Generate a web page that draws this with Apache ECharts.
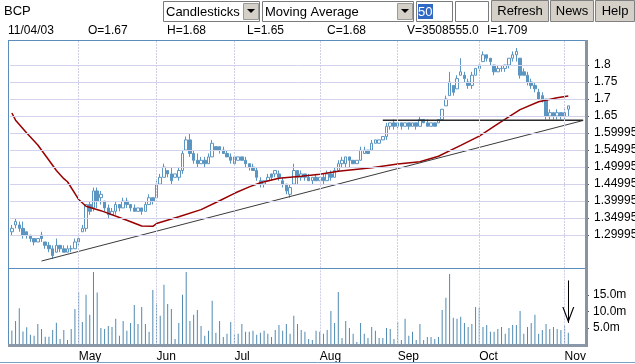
<!DOCTYPE html>
<html><head><meta charset="utf-8">
<script src="https://cdn.jsdelivr.net/npm/echarts@6/dist/echarts.min.js"></script>
<style>html,body{margin:0;padding:0;background:#fff}#c{width:635px;height:364px}</style>
</head><body><div id="c"></div>
<script>
// ---------- data ----------
const dates = [
 '04/03','04/04','04/07','04/08','04/09','04/10','04/11','04/14','04/15','04/16','04/17','04/22','04/23','04/24','04/25','04/28','04/29','04/30',
 '05/02','05/05','05/06','05/07','05/08','05/09','05/12','05/13','05/14','05/15','05/16','05/19','05/20','05/21','05/22','05/23','05/26','05/27','05/28','05/29','05/30',
 '06/02','06/03','06/04','06/05','06/06','06/09','06/10','06/11','06/12','06/13','06/16','06/17','06/18','06/19','06/20','06/23','06/24','06/25','06/26','06/27','06/30',
 '07/01','07/02','07/03','07/04','07/07','07/08','07/09','07/10','07/11','07/14','07/15','07/16','07/17','07/18','07/21','07/22','07/23','07/24','07/25','07/28','07/29','07/30','07/31',
 '08/01','08/04','08/05','08/06','08/07','08/08','08/11','08/12','08/13','08/14','08/15','08/18','08/19','08/20','08/21','08/22','08/25','08/26','08/27','08/28','08/29',
 '09/01','09/02','09/03','09/04','09/05','09/08','09/09','09/10','09/11','09/12','09/15','09/16','09/17','09/18','09/19','09/22','09/23','09/24','09/25','09/26','09/29','09/30',
 '10/01','10/02','10/03','10/06','10/07','10/08','10/09','10/10','10/13','10/14','10/15','10/16','10/17','10/20','10/21','10/22','10/23','10/24','10/27','10/28','10/29','10/30','10/31',
 '11/03','11/04'
];
const padDays = ['', '', '', ''];
const open = [1.31,1.33,1.33,1.32,1.31,1.30,1.29,1.28,1.30,1.28, 1.27,1.26,1.25,1.27,1.26,1.25,1.26,1.26,1.28,1.31,
 1.32,1.39,1.38,1.43,1.41,1.40,1.38,1.36,1.37,1.39, 1.38,1.40,1.39,1.38,1.37,1.38,1.37,1.39,1.41,1.41,
 1.45,1.47,1.49,1.48,1.47,1.47,1.49,1.55,1.58,1.54, 1.52,1.51,1.52,1.51,1.53,1.56,1.56,1.55,1.54,1.53,
 1.51,1.52,1.53,1.52,1.51,1.50,1.49,1.46,1.45,1.46, 1.48,1.48,1.48,1.46,1.45,1.42,1.45,1.49,1.47,1.48,
 1.47,1.46,1.47,1.46,1.47,1.46,1.48,1.47,1.49,1.51, 1.51,1.53,1.52,1.51,1.52,1.54,1.55,1.55,1.57,1.57,
 1.58,1.59,1.62,1.63,1.62,1.63,1.62,1.63,1.62,1.63, 1.62,1.64,1.63,1.62,1.63,1.63,1.64,1.68,1.71,1.74,
 1.73,1.77,1.77,1.75,1.74,1.77,1.79,1.81,1.83,1.82, 1.80,1.78,1.79,1.79,1.80,1.82,1.83,1.82,1.78,1.77,
 1.75,1.74,1.72,1.71,1.70,1.65,1.66,1.65,1.66,1.65, 1.67];
const close = [1.32,1.34,1.32,1.30,1.30,1.29,1.28,1.29,1.29,1.27, 1.26,1.24,1.27,1.26,1.25,1.26,1.26,1.28,1.29,1.32,
 1.39,1.37,1.43,1.40,1.42,1.38,1.36,1.37,1.39,1.38, 1.40,1.39,1.38,1.37,1.38,1.37,1.39,1.41,1.40,1.45,
 1.47,1.50,1.48,1.46,1.48,1.49,1.54,1.58,1.54,1.52, 1.51,1.52,1.51,1.53,1.57,1.55,1.55,1.54,1.53,1.52,
 1.53,1.53,1.52,1.51,1.50,1.49,1.47,1.45,1.46,1.47, 1.47,1.49,1.47,1.45,1.43,1.44,1.49,1.47,1.48,1.47,
 1.46,1.47,1.46,1.47,1.46,1.48,1.47,1.49,1.51,1.52, 1.53,1.52,1.51,1.52,1.55,1.55,1.54,1.57,1.58,1.58,
 1.59,1.62,1.63,1.62,1.63,1.62,1.63,1.62,1.63,1.62, 1.64,1.63,1.62,1.63,1.62,1.64,1.67,1.70,1.75,1.72,
 1.76,1.78,1.76,1.74,1.77,1.79,1.80,1.83,1.82,1.81, 1.78,1.79,1.79,1.80,1.82,1.83,1.84,1.77,1.77,1.75,
 1.74,1.73,1.70,1.70,1.65,1.66,1.65,1.66,1.65,1.66, 1.68];
const low = [1.30,1.32,1.31,1.29,1.29,1.28,1.27,1.28,1.28,1.26, 1.25,1.23,1.25,1.25,1.25,1.25,1.25,1.26,1.27,1.31,
 1.31,1.36,1.37,1.38,1.39,1.37,1.35,1.36,1.36,1.37, 1.38,1.38,1.37,1.37,1.37,1.36,1.37,1.39,1.39,1.41,
 1.45,1.47,1.47,1.45,1.47,1.46,1.48,1.55,1.53,1.51, 1.50,1.51,1.50,1.51,1.53,1.55,1.54,1.54,1.53,1.51,
 1.51,1.52,1.52,1.50,1.49,1.49,1.46,1.44,1.44,1.46, 1.46,1.47,1.46,1.44,1.42,1.41,1.45,1.45,1.46,1.46,
 1.46,1.45,1.46,1.46,1.45,1.46,1.46,1.47,1.49,1.50, 1.50,1.50,1.51,1.51,1.52,1.54,1.54,1.55,1.57,1.57,
 1.58,1.58,1.61,1.61,1.61,1.61,1.62,1.61,1.62,1.61, 1.62,1.63,1.62,1.62,1.62,1.63,1.64,1.68,1.71,1.71,
 1.73,1.77,1.75,1.73,1.73,1.77,1.78,1.81,1.81,1.80, 1.77,1.78,1.78,1.78,1.79,1.81,1.81,1.76,1.77,1.74,
 1.73,1.72,1.70,1.69,1.64,1.64,1.64,1.64,1.64,1.64, 1.65];
const high = [1.33,1.35,1.34,1.34,1.31,1.30,1.29,1.29,1.31,1.28, 1.28,1.27,1.29,1.27,1.27,1.27,1.27,1.29,1.30,1.33,
 1.39,1.40,1.44,1.44,1.43,1.40,1.39,1.38,1.40,1.39, 1.41,1.41,1.39,1.39,1.38,1.38,1.40,1.42,1.41,1.46,
 1.48,1.51,1.49,1.50,1.48,1.50,1.55,1.59,1.60,1.55, 1.54,1.53,1.53,1.54,1.58,1.56,1.56,1.56,1.55,1.54,
 1.53,1.53,1.53,1.53,1.51,1.51,1.50,1.47,1.46,1.48, 1.48,1.49,1.49,1.47,1.45,1.45,1.51,1.49,1.49,1.48,
 1.48,1.47,1.48,1.47,1.48,1.49,1.49,1.50,1.52,1.53, 1.53,1.53,1.52,1.52,1.56,1.56,1.55,1.58,1.58,1.58,
 1.59,1.63,1.63,1.64,1.63,1.63,1.63,1.63,1.63,1.63, 1.65,1.64,1.64,1.63,1.63,1.64,1.67,1.71,1.78,1.74,
 1.77,1.82,1.78,1.76,1.78,1.79,1.80,1.84,1.83,1.82, 1.80,1.80,1.80,1.80,1.82,1.84,1.85,1.82,1.79,1.78,
 1.76,1.75,1.73,1.72,1.70,1.67,1.66,1.67,1.66,1.67, 1.68];
// volume in millions
const volume = [4.2,7.1,11.0,3.9,5.2,2.9,2.6,6.2,4.7,2.3, 2.3,4.4,6.6,1.6,4.4,1.3,4.7,10.8,16.0,6.8,
 15.1,9.0,22.1,15.8,5.0,4.7,5.6,5.3,7.8,2.6, 7.1,4.1,6.5,12.0,6.2,11.4,6.2,3.8,16.6,12.6,
 8.7,18.2,12.3,10.8,1.6,6.5,15.1,22.1,7.1,9.0, 10.5,5.6,2.6,4.1,13.3,3.5,7.1,2.2,3.2,6.8,
 3.2,3.2,6.2,3.8,3.8,4.1,2.9,3.5,4.1,3.2, 2.2,4.4,5.9,4.1,6.2,3.2,8.7,6.2,4.4,3.8,
 1.6,1.3,4.1,3.8,3.2,4.4,10.2,6.5,16.0,1.9, 7.1,5.0,3.2,0.7,6.5,3.2,1.9,5.3,4.1,1.9,
 1.9,5.0,4.7,1.6,6.8,1.3,7.8,2.6,3.8,1.3, 6.2,1.3,2.2,2.2,1.6,2.2,10.5,14.2,21.5,8.1,
 7.8,8.4,6.5,5.3,6.2,11.4,11.1,5.3,5.9,3.8, 3.8,4.7,5.3,3.2,5.0,5.9,5.9,10.2,3.2,5.3,
 6.5,9.0,3.2,4.4,6.2,4.7,5.3,4.7,4.4,5.6, 3.5];
// 50-day moving average read at trading-day indices
const maPoints = [[0,1.659],[1,1.638],[4,1.600],[7,1.565],[10,1.520],[12,1.490],[14,1.466],[15,1.457],[18,1.405],[20,1.385],
 [24,1.372],[31,1.344],[35,1.327],[38,1.326],[39,1.334],[45,1.354],[51,1.375],[56,1.401],[60,1.423],[64,1.442],[67,1.454],
 [72,1.467],[78,1.473],[83,1.479],[88,1.488],[97,1.498],[104,1.509],[110,1.516],[115,1.532],[121,1.564],[126,1.591],
 [131,1.627],[137,1.669],[142,1.692],[147,1.704],[150,1.709]];
const supportLine = [[8,1.224],[154,1.637]];
const resistanceLine = [[100,1.638],[154,1.638]];
const arrowFrom = [150, 19.5];
const arrowTo = [150, 6.5];
const priceTicks = [1.29995,1.34995,1.39995,1.44995,1.49995,1.54995,1.59995,1.65,1.7,1.75,1.8];
const priceTickLabels = ['1.29995','1.34995','1.39995','1.44995','1.49995','1.54995','1.59995','1.65','1.7','1.75','1.8'];
const volumeTicks = [5, 10, 15];
const monthNames = ['Jan','Feb','Mar','Apr','May','Jun','Jul','Aug','Sep','Oct','Nov','Dec'];
const infoTexts = ['11/04/03','O=1.67','H=1.68','L=1.65','C=1.68','V=3508555.0','I=1.709'];

// ---------- build ----------
const cats = dates.concat(padDays);
const ohlc = dates.map((d, i) => [open[i], close[i], low[i], high[i]]);
const monthStart = [];
dates.forEach((d, i) => { if (i > 0 && d.slice(0,2) !== dates[i-1].slice(0,2)) monthStart.push(i); });
const monthSet = new Set(monthStart);
const BLUE = '#5b96c2';
const FONT = '"Liberation Sans", Arial, sans-serif';

const chart = echarts.init(document.getElementById('c'), null, {renderer: 'canvas', width: 635, height: 364});

function txt(x, y, s, size, color, align) {
  return {type: 'text', x: x, y: y, z: 20, style: {text: s, fill: color || '#000', font: size + 'px ' + FONT, align: align || 'left', verticalAlign: 'middle'}};
}
function rect(x, y, w, h, fill, stroke, z) {
  return {type: 'rect', z: z || 15, shape: {x: x, y: y, width: w, height: h}, style: {fill: fill, stroke: stroke || null, lineWidth: 1}};
}
function ln(x1, y1, x2, y2, color, w, z) {
  return {type: 'line', z: z || 15, shape: {x1: x1, y1: y1, x2: x2, y2: y2}, style: {stroke: color, lineWidth: w || 1}};
}
const infoX = [8, 88, 167, 247, 327, 407, 487];
const graphics = [
  // toolbar
  rect(0, 0, 635, 23, '#ffffff'),
  txt(4, 11, 'BCP', 13),
  rect(163.5, 1.5, 96, 20, '#fff', '#7a7a7a'),
  rect(243.5, 3.5, 15, 16, '#d4d0c8', '#9a9a9a'),
  {type: 'polygon', z: 20, shape: {points: [[247, 9], [255, 9], [251, 13]]}, style: {fill: '#000'}},
  txt(166, 12, 'Candlesticks', 13),
  rect(262.5, 1.5, 151, 20, '#fff', '#7a7a7a'),
  rect(397.5, 3.5, 15, 16, '#d4d0c8', '#9a9a9a'),
  {type: 'polygon', z: 20, shape: {points: [[401, 9], [409, 9], [405, 13]]}, style: {fill: '#000'}},
  txt(265, 12, 'Moving Average', 13),
  rect(416.5, 1.5, 36, 20, '#fff', '#7a7a7a'),
  rect(418, 4, 15, 15, '#316ac5'),
  txt(418, 12, '50', 13, '#fff'),
  rect(455.5, 1.5, 33, 20, '#fff', '#7a7a7a'),
  rect(491.5, 0.5, 57, 21, '#d4d0c8', '#808080'),
  txt(520, 11, 'Refresh', 13, '#000', 'center'),
  rect(550.5, 0.5, 43, 21, '#d4d0c8', '#808080'),
  txt(572, 11, 'News', 13, '#000', 'center'),
  rect(595.5, 0.5, 39, 21, '#d4d0c8', '#808080'),
  txt(615, 11, 'Help', 13, '#000', 'center'),
  // frame
  ln(8.5, 40, 8.5, 345, '#5a8cbc'),
  ln(8, 40.5, 586, 40.5, '#5a8cbc'),
  ln(8, 268.5, 586, 268.5, '#5a8cbc'),
  rect(8, 344, 580, 3, '#8a98aa', null),
  rect(585, 40, 3, 307, '#8a94a0', null),
  ln(0, 362.5, 635, 362.5, '#7aa0c8')
];
infoTexts.forEach((s, i) => graphics.push(txt(infoX[i], 31, s, 12)));

const option = {
  animation: false,
  backgroundColor: '#ffffff',
  textStyle: {fontFamily: FONT},
  graphic: graphics,
  grid: [
    {left: 10, right: 50, top: 40, height: 228, containLabel: false, outerBoundsMode: 'none'},
    {left: 10, right: 50, top: 268, height: 76.3, containLabel: false, outerBoundsMode: 'none'}
  ],
  xAxis: [
    {type: 'category', gridIndex: 0, data: cats, boundaryGap: true,
     axisLine: {show: false}, axisTick: {show: false}, axisLabel: {show: false}, splitLine: {show: false}},
    {type: 'category', gridIndex: 1, data: cats, boundaryGap: true,
     axisLine: {show: false}, axisTick: {show: false}, splitLine: {show: false},
     axisLabel: {interval: (i) => monthSet.has(i), formatter: (v) => v ? monthNames[parseInt(v.slice(0,2), 10) - 1] : '',
       align: 'left', margin: 6, color: '#000', fontSize: 12, fontFamily: FONT}}
  ],
  yAxis: [
    {type: 'value', gridIndex: 0, position: 'right', min: 1.2035, max: 1.8735,
     axisLine: {show: false}, splitLine: {show: false},
     axisTick: {show: true, customValues: priceTicks, length: 4, inside: false, lineStyle: {color: '#555'}},
     axisLabel: {customValues: priceTicks, margin: 9, color: '#000', fontSize: 12, fontFamily: FONT, hideOverlap: false,
       formatter: (v) => { let k = 0; priceTicks.forEach((t, j) => { if (Math.abs(t - v) < Math.abs(priceTicks[k] - v)) k = j; }); return priceTickLabels[k]; }}},
    {type: 'value', gridIndex: 1, position: 'right', min: 0, max: 23.3,
     axisLine: {show: false}, splitLine: {show: false},
     axisTick: {show: true, customValues: volumeTicks, length: 4, lineStyle: {color: '#555'}},
     axisLabel: {customValues: volumeTicks, margin: 8, color: '#000', fontSize: 12, fontFamily: FONT,
       formatter: (v) => v.toFixed(1) + 'm'}}
  ],
  series: [
    {type: 'line', xAxisIndex: 0, yAxisIndex: 0, data: [], z: 1, silent: true,
     markLine: {silent: true, symbol: 'none', label: {show: false}, animation: false,
       lineStyle: {color: '#d2d2ec', type: 'solid', width: 1},
       data: priceTicks.map(v => ({yAxis: v}))}},
    {type: 'line', xAxisIndex: 0, yAxisIndex: 0, data: [], z: 1, silent: true,
     markLine: {silent: true, symbol: 'none', label: {show: false}, animation: false,
       lineStyle: {color: '#cfcfe6', type: [2, 1], width: 1},
       data: monthStart.map(i => ({xAxis: dates[i]}))}},
    {type: 'line', xAxisIndex: 1, yAxisIndex: 1, data: [], z: 1, silent: true,
     markLine: {silent: true, symbol: 'none', label: {show: false}, animation: false,
       lineStyle: {color: '#cfcfe6', type: [2, 1], width: 1},
       data: monthStart.map(i => ({xAxis: dates[i]}))}},
    {name: 'BCP', type: 'candlestick', xAxisIndex: 0, yAxisIndex: 0, data: ohlc, barWidth: 3, z: 3,
     itemStyle: {color: '#ffffff', color0: BLUE, borderColor: BLUE, borderColor0: BLUE, borderWidth: 1}},
    {name: 'MA50', type: 'line', xAxisIndex: 0, yAxisIndex: 0, data: maPoints, showSymbol: false, z: 4,
     lineStyle: {color: '#990000', width: 1.5}},
    {name: 'support', type: 'line', xAxisIndex: 0, yAxisIndex: 0, data: supportLine, showSymbol: false, z: 4,
     lineStyle: {color: '#3a3a3a', width: 1}},
    {name: 'resistance', type: 'line', xAxisIndex: 0, yAxisIndex: 0, data: resistanceLine, showSymbol: false, z: 4,
     lineStyle: {color: '#2a2a2a', width: 1.5}},
    {name: 'Volume', type: 'bar', xAxisIndex: 1, yAxisIndex: 1, data: volume, barWidth: 1, z: 3,
     itemStyle: {color: '#4f8ab2'},
     markLine: {silent: true, symbol: 'none', label: {show: false}, animation: false,
       lineStyle: {color: '#000', width: 1, type: 'solid'},
       data: [[{coord: arrowFrom}, {coord: arrowTo}]]},
     markPoint: {silent: true, label: {show: false}, animation: false,
       symbol: 'path://M0,0 L5,10 L10,0 L9,0 L5,8 L1,0 Z', symbolSize: [12, 16], symbolOffset: [0, '-50%'],
       itemStyle: {color: '#000'},
       data: [{coord: arrowTo}]}}
  ]
};
chart.setOption(option);
</script>
</body></html>
